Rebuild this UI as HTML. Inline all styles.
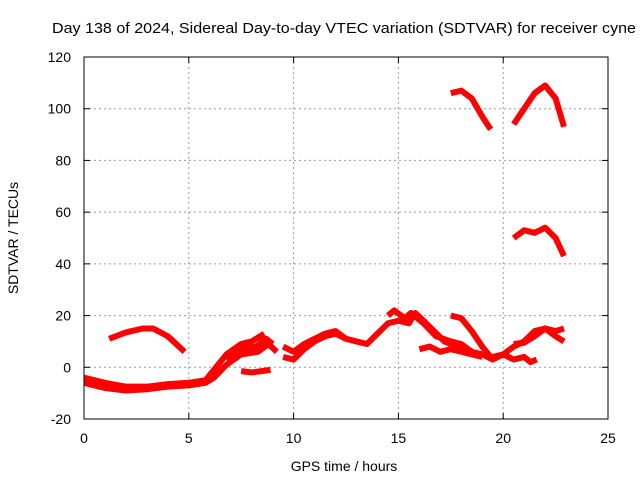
<!DOCTYPE html>
<html><head><meta charset="utf-8"><style>
body{margin:0;background:#fff;}
svg{display:block;font-family:"Liberation Sans",sans-serif;}
</style></head><body>
<svg id="chart" width="640" height="480">
<rect width="640" height="480" fill="#fff"/>
<text x="52" y="33" font-size="15" textLength="584" lengthAdjust="spacingAndGlyphs">Day 138 of 2024, Sidereal Day-to-day VTEC variation (SDTVAR) for receiver cyne</text>
<g id="grid"></g>
<g id="ticks"></g>
<g id="series"></g>
<rect x="84" y="57" width="524" height="362" fill="none" stroke="#000" stroke-width="1"/>
<text x="344" y="471" font-size="14" text-anchor="middle">GPS time / hours</text>
<text transform="translate(18,238) rotate(-90)" font-size="14" text-anchor="middle">SDTVAR / TECUs</text>
</svg>
<script>
const xTicks=[0,5,10,15,20,25];
const yTicks=[-20,0,20,40,60,80,100,120];
const s1=[[1.2,11],[2.0,13.5],[2.8,15],[3.3,15],[4.0,12],[4.8,6]];
const s2=[[0,-4],[1,-6],[2,-7.5],[3,-7.5],[4,-6.5],[5,-6],[5.8,-5],[6.3,0],[6.8,5],[7.5,9],[8.0,10],[8.6,13]];
const s2b=[[0,-6],[1,-8],[2,-9],[3,-8.5],[4,-7.5],[5,-7],[5.8,-6],[6.2,-4],[6.8,1],[7.5,5],[8.3,6],[8.8,9],[9.2,6]];
const s3=[[6.8,3],[7.5,7],[8.2,8],[8.7,11],[9.0,9]];
const s4=[[7.5,-1.5],[8,-2],[8.9,-1]];
const s5=[[9.5,8],[10,6],[10.5,9],[11,11],[11.5,13],[12,14],[12.5,11],[13,10],[13.5,9],[14,13],[14.5,17],[15,18],[15.5,17],[15.8,21],[16.2,18],[16.7,14],[17.2,10],[17.8,8],[18.5,6],[19,5],[19.5,3],[20,5],[20.5,8],[21,10],[21.5,14],[22,15],[22.5,14],[22.9,15]];
const s5b=[[9.5,4],[10,3],[10.5,7],[11,10],[11.5,12],[12,13],[12.5,11]];
const s6=[[14.5,20],[14.8,22],[15.3,19],[15.6,21],[16.2,17],[16.8,12],[17.5,10],[18,9],[18.5,6]];
const s7=[[16,7],[16.5,8],[17,6],[17.5,7],[18,6],[18.5,5],[19,4]];
const s8=[[17.5,20],[18,19],[18.5,14],[19,8],[19.5,3]];
const s9=[[19.5,4],[20,5],[20.5,3],[21,4],[21.3,2],[21.6,3]];
const s10=[[20.5,9],[21,9.5],[21.5,12],[22,15],[22.5,12],[22.9,10]];
const s11=[[17.5,106],[18,107],[18.5,104],[19,97],[19.4,92]];
const s12=[[20.5,94],[21,100],[21.5,106],[22,109],[22.5,104],[22.9,93]];
const s13=[[20.5,50],[21,53],[21.5,52],[22,54],[22.5,50],[22.9,43]];
const allSeries=[s1,s2,s2b,s3,s4,s5,s5b,s6,s7,s8,s9,s10,s11,s12,s13];
const X=h=>84+h*524/25, Y=v=>419-(v+20)*362/140;
const NS="http://www.w3.org/2000/svg";
const grid=document.getElementById('grid'),ticks=document.getElementById('ticks'),ser=document.getElementById('series');
function mk(t,a,p){const e=document.createElementNS(NS,t);for(const k in a)e.setAttribute(k,a[k]);p.appendChild(e);return e;}
xTicks.forEach(t=>{const x=X(t);
 if(t>0&&t<25){const g=mk('line',{x1:x,x2:x,y1:57,y2:419,stroke:'#999','stroke-dasharray':'2,3'},grid);
 
 }
 const l=mk('text',{x:x,y:443,'font-size':14,'text-anchor':'middle'},ticks);l.textContent=t;
 
 
 mk('line',{x1:x,x2:x,y1:419,y2:413,stroke:'#000'},ticks);mk('line',{x1:x,x2:x,y1:57,y2:63,stroke:'#000'},ticks);});
yTicks.forEach(t=>{const y=Y(t);
 if(t>-20&&t<120){const g=mk('line',{x1:84,x2:608,y1:y,y2:y,stroke:'#999','stroke-dasharray':'2,3'},grid);
 
 }
 const l=mk('text',{x:71,y:y+5,'font-size':14,'text-anchor':'end'},ticks);l.textContent=t;
 
 
 mk('line',{x1:84,x2:90,y1:y,y2:y,stroke:'#000'},ticks);mk('line',{x1:608,x2:602,y1:y,y2:y,stroke:'#000'},ticks);});
allSeries.forEach((s,i)=>{const p=mk('polyline',{points:s.map(d=>X(d[0])+','+Y(d[1])).join(' '),fill:'none',stroke:'#f00','stroke-width':6,'stroke-linejoin':'round'},ser);
 
 });
</script>
</body></html>
